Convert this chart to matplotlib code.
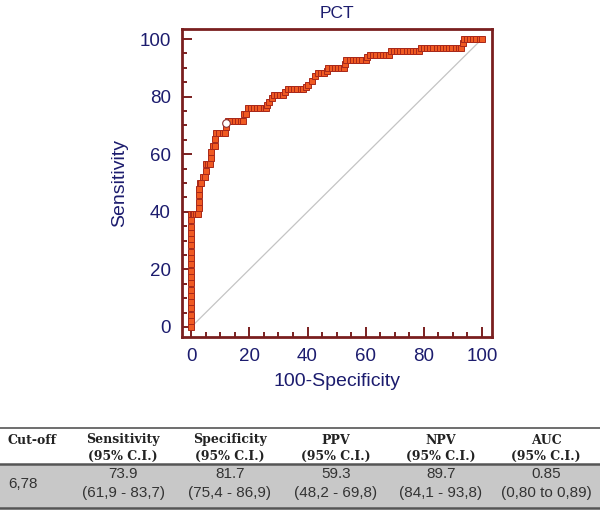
import matplotlib
matplotlib.use("Agg")
import matplotlib.pyplot as plt
from matplotlib.ticker import MultipleLocator

# ROC points (100-specificity, sensitivity)
fpr = [0, 0, 0, 0, 0, 0, 0, 0, 0, 0, 0, 0, 0, 0, 0, 0, 0, 0, 0,
       0.6, 1.1, 1.7, 2.3, 2.6, 2.6, 2.6, 2.6, 2.9, 3.4, 4.0, 4.6, 4.9, 5.2, 5.7, 6.3,
       6.9, 6.9, 7.4, 8.0, 8.0, 8.6, 9.7, 10.9, 11.5, 12.0, 12.6, 13.7, 14.9, 16.0,
       17.1, 17.7, 18.3, 18.9, 19.4, 20.5, 21.6, 22.7, 23.8, 24.9, 25.6, 26.0, 26.9,
       27.9, 28.5, 29.6, 30.7, 31.5, 32.4, 33.2, 34.3, 35.4, 36.5, 37.6, 38.4, 39.4,
       40.3, 41.4, 42.5, 43.6, 44.7, 45.8, 46.6, 47.2, 48.3, 49.4, 50.5, 51.6, 52.4,
       53.0, 53.4, 54.5, 55.6, 56.7, 57.8, 58.9, 60.0, 60.6, 61.5, 62.6, 63.7, 64.8,
       65.9, 67.0, 68.0, 68.6, 69.7, 70.8, 71.9, 73.0, 74.1, 75.2, 76.3, 77.4, 78.4,
       78.9, 80.0, 81.1, 82.2, 83.3, 84.4, 85.5, 86.6, 87.7, 88.8, 89.9, 91.0, 92.1,
       93.0, 93.4, 93.7, 94.8, 95.9, 97.0, 98.1, 99.2, 100]
tpr = [0, 2.2, 4.3, 6.5, 8.7, 10.9, 13.0, 15.2, 17.4, 19.6, 21.7, 23.9, 26.1, 28.3,
       30.4, 32.6, 34.8, 37.0, 39.1,
       39.1, 39.1, 39.1, 39.1, 41.3, 43.5, 45.7, 47.8, 50.0, 50.0, 52.2, 52.2, 54.3, 56.5, 56.5, 56.5,
       58.7, 60.9, 63.0, 63.0, 65.2, 67.4, 67.4, 67.4, 67.4, 69.6, 71.7, 71.7, 71.7, 71.7,
       71.7, 71.7, 73.9, 73.9, 76.1, 76.1, 76.1, 76.1, 76.1, 76.1, 76.1, 77.2, 78.3,
       79.6, 80.4, 80.4, 80.4, 80.4, 81.5, 82.8, 82.8, 82.8, 82.8, 82.8, 82.8, 83.5,
       84.2, 85.4, 87.1, 88.2, 88.2, 88.2, 88.8, 90.0, 90.0, 90.0, 90.0, 90.0, 90.0,
       91.5, 92.9, 92.9, 92.9, 92.9, 92.9, 92.9, 92.9, 93.7, 94.5, 94.5, 94.5, 94.5,
       94.5, 94.5, 94.5, 95.9, 95.9, 95.9, 95.9, 95.9, 95.9, 95.9, 95.9, 95.9, 95.9,
       97.0, 97.0, 97.0, 97.0, 97.0, 97.0, 97.0, 97.0, 97.0, 97.0, 97.0, 97.0, 97.0,
       97.0, 98.6, 100, 100, 100, 100, 100, 100, 100]
cut_point = (12.1, 70.8)

# table
headers = ["Cut-off", "Sensitivity", "Specificity", "PPV", "NPV", "AUC"]
cutoff = "6,78"
estimates = ["73.9", "81.7", "59.3", "89.7", "0.85"]
intervals = ["(61,9 - 83,7)", "(75,4 - 86,9)", "(48,2 - 69,8)", "(84,1 - 93,8)", "(0,80 to 0,89)"]

navy = "#1c1c6e"
maroon = "#7a1f1f"

fig = plt.figure(figsize=(6, 5.19), dpi=100)

# table layer in pixel coordinates
tab = fig.add_axes([0, 0, 1, 1])
tab.set_xlim(0, 600)
tab.set_ylim(519, 0)
tab.axis("off")
tab.axhspan(464, 508, color="#c8c8c8", lw=0)
tab.plot([0, 600], [428, 428], color="#555555", lw=1.2)
tab.plot([0, 600], [464, 464], color="#555555", lw=1.8)
tab.plot([0, 600], [508, 508], color="#555555", lw=1.8)
col_x = [8, 123, 230, 336, 441, 546]
hfont = dict(family="DejaVu Serif", fontweight="bold", fontsize=9, color="#222222")
vfont = dict(family="Liberation Sans", fontsize=11, color="#333333")
tab.text(col_x[0], 440, headers[0], ha="left", va="center", **hfont)
for i in range(1, 6):
    tab.text(col_x[i], 440, headers[i], ha="center", va="center", **hfont)
    tab.text(col_x[i], 456, "(95% C.I.)", ha="center", va="center", **hfont)
    tab.text(col_x[i], 474, estimates[i - 1], ha="center", va="center", **vfont)
    tab.text(col_x[i], 493, intervals[i - 1], ha="center", va="center", **vfont)
tab.text(col_x[0], 484, cutoff, ha="left", va="center", **vfont)

# ROC plot
ax = fig.add_axes([182 / 600, 1 - 337 / 519, 310 / 600, 308 / 519])
ax.plot([0, 100], [0, 100], color="#c4c4c4", lw=0.9, zorder=1)
ax.plot(fpr, tpr, color="#9a2416", lw=1, marker="s", markersize=4.8,
        markerfacecolor="#f05a22", markeredgecolor="#a8281a", markeredgewidth=0.7, zorder=2)
ax.plot(*cut_point, marker="o", markersize=5.5, markerfacecolor="white",
        markeredgecolor="#8a3030", markeredgewidth=0.8, zorder=3)
ax.set_xlim(-3.2, 103.5)
ax.set_ylim(-3.5, 103.5)
ax.xaxis.set_major_locator(MultipleLocator(20))
ax.yaxis.set_major_locator(MultipleLocator(20))
ax.xaxis.set_minor_locator(MultipleLocator(5))
ax.yaxis.set_minor_locator(MultipleLocator(5))
ax.tick_params(which="both", direction="in", color=maroon, width=1.4, labelcolor=navy,
               labelsize=13.5, top=False, right=False)
ax.tick_params(which="major", length=7, pad=8)
ax.tick_params(which="minor", length=3.5)
for s in ax.spines.values():
    s.set_color(maroon)
    s.set_linewidth(2)
for lab in ax.get_xticklabels() + ax.get_yticklabels():
    lab.set_family("Liberation Sans")
ax.set_title("PCT", color=navy, fontsize=12.5, family="Liberation Sans", pad=8)
ax.set_xlabel("100-Specificity", color=navy, fontsize=14, family="Liberation Sans", labelpad=6)
ax.set_ylabel("Sensitivity", color=navy, fontsize=14, family="Liberation Sans", labelpad=8)

fig.savefig("out.png", dpi=100)
